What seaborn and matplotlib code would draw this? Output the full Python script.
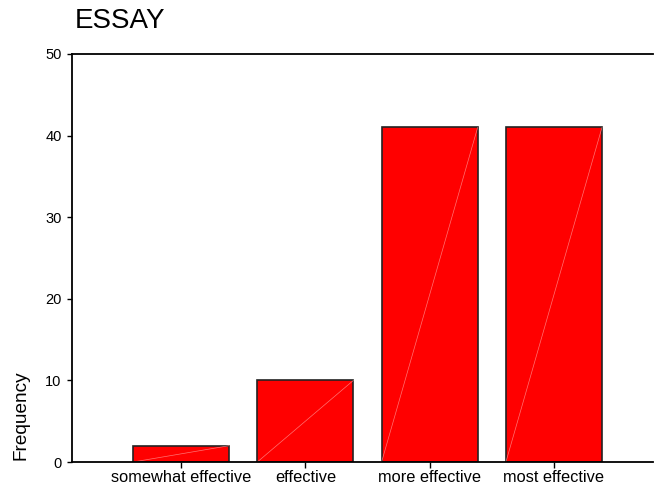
"""
ESSAY frequency bar chart
"""
import matplotlib
matplotlib.use('Agg')
import matplotlib.pyplot as plt
import seaborn as sns
import pandas as pd

# data
categories = ['somewhat effective', 'effective', 'more effective', 'most effective']
frequency = [2, 10, 41, 41]
y_ticks = [0, 10, 20, 30, 40, 50]

sns.set_style('white')
plt.rcParams['font.family'] = ['Liberation Sans', 'DejaVu Sans']
plt.rcParams['text.color'] = 'black'
plt.rcParams['axes.labelcolor'] = 'black'
plt.rcParams['xtick.color'] = 'black'
plt.rcParams['ytick.color'] = 'black'

df = pd.DataFrame({'category': categories, 'frequency': frequency})

fig = plt.figure(figsize=(6.54, 4.9), dpi=100)
ax = fig.add_axes([0.1101, 0.0571, 0.8884, 0.8327])

sns.barplot(data=df, x='category', y='frequency', color='#ff0000',
            saturation=1, width=0.773, edgecolor='#222222', linewidth=1.2, ax=ax)

# faint seam lines like the original renderer
for p in ax.patches:
    x0, y0 = p.get_x(), p.get_y()
    ax.plot([x0, x0 + p.get_width()], [y0, y0 + p.get_height()],
            color='#ff9090', linewidth=0.5, alpha=0.8)

ax.set_xlim(-0.877, 3.797)
ax.set_ylim(0, 50)
ax.set_yticks(y_ticks)

for side in ['left', 'top', 'bottom']:
    ax.spines[side].set_visible(True)
    ax.spines[side].set_color('black')
    ax.spines[side].set_linewidth(1.3)
ax.spines['right'].set_visible(False)

ax.tick_params(axis='y', left=True, direction='out', length=3.5, width=1,
               colors='black', labelsize=10.5, pad=4)
ax.tick_params(axis='x', bottom=True, direction='out', length=4, width=1,
               colors='black', labelsize=11.8, pad=2)

ax.set_xlabel('')
ax.set_ylabel('Frequency', fontsize=13.7, color='black')
ax.yaxis.set_label_coords(-0.074, 0.115)

fig.text(0.1147, 0.9429, 'ESSAY', fontsize=20, va='baseline', ha='left', color='black')

plt.savefig('out.png', dpi=100)
